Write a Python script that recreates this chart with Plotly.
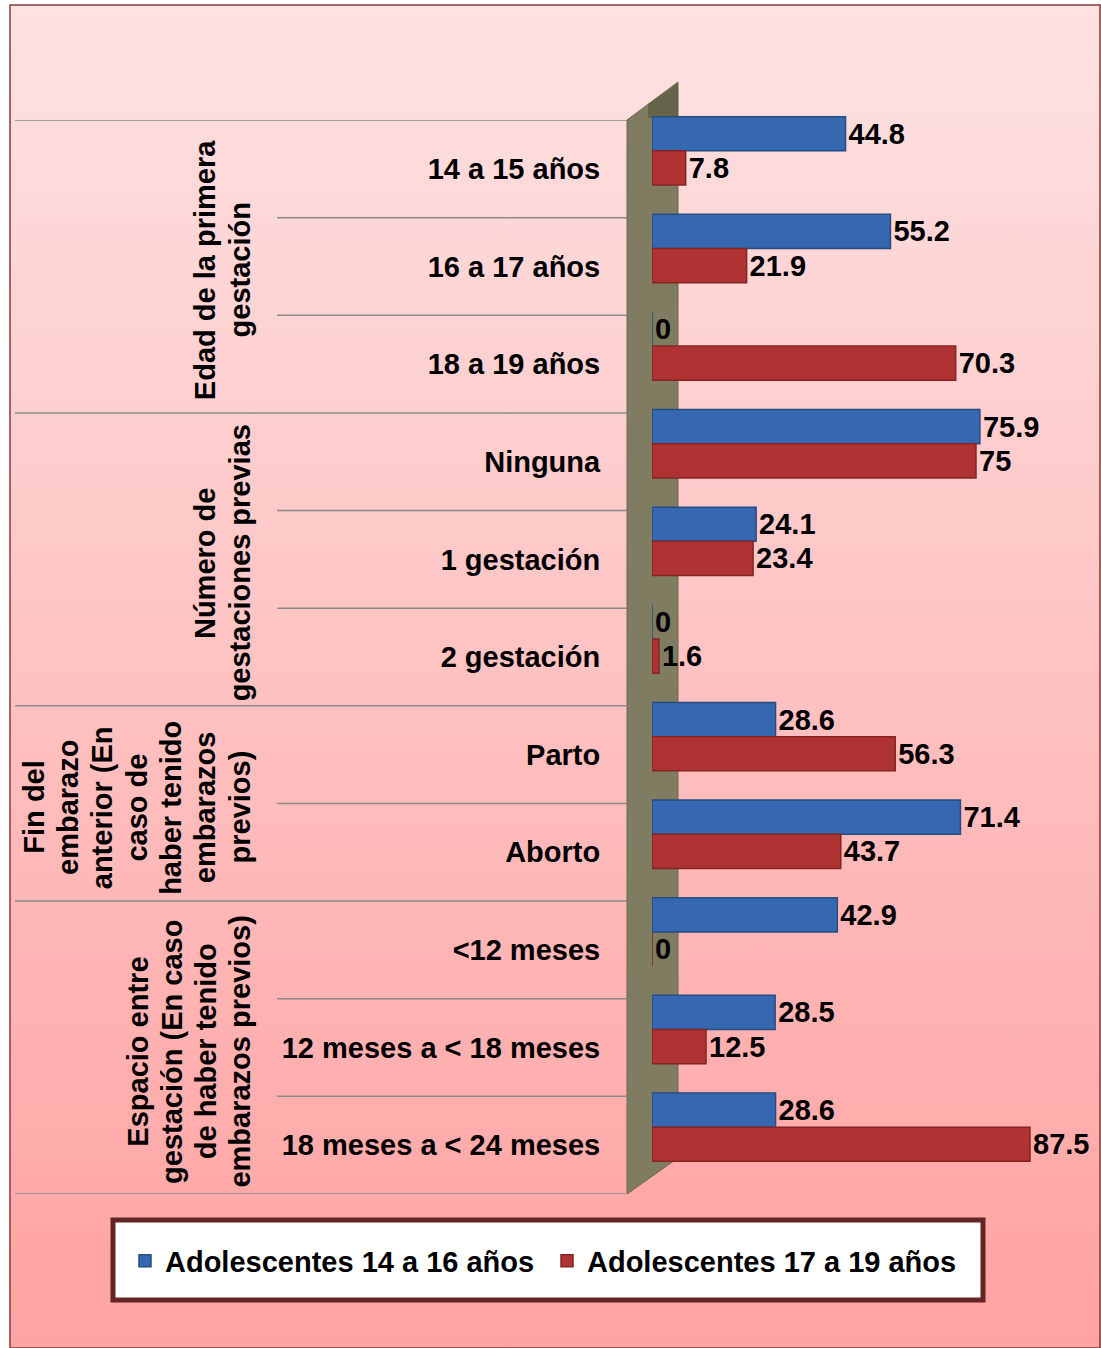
import base64
import plotly.graph_objects as go

# ---------------- data ----------------
categories = ["14 a 15 años", "16 a 17 años", "18 a 19 años",
              "Ninguna", "1 gestación", "2 gestación",
              "Parto", "Aborto",
              "<12 meses", "12 meses a < 18 meses", "18 meses a < 24 meses"]
group_labels = ["Edad de la primera<br>gestación",
                "Número de<br>gestaciones previas",
                "Fin del<br>embarazo<br>anterior (En<br>caso de<br>haber tenido<br>embarazos<br>previos)",
                "Espacio entre<br>gestación (En caso<br>de haber tenido<br>embarazos previos)"]
group_sizes = [3, 3, 2, 3]
series_names = ["Adolescentes 14 a 16 años", "Adolescentes 17 a 19 años"]
serie_14_16 = [44.8, 55.2, 0, 75.9, 24.1, 0, 28.6, 71.4, 42.9, 28.5, 28.6]
serie_17_19 = [7.8, 21.9, 70.3, 75, 23.4, 1.6, 56.3, 43.7, 0, 12.5, 87.5]

# ---------------- layout helpers ----------------
W, H = 1101, 1348
def px(x):
    return x / W
def py(y):
    return 1 - y / H

FONT = "Liberation Sans, Arial, sans-serif"
FS = 29
n = len(categories)

fig = go.Figure()

colors = ["#3568b0", "#b03333"]
lines = ["#264c82", "#862424"]
for name, vals, c, lc in zip(series_names, [serie_14_16, serie_17_19], colors, lines):
    fig.add_trace(go.Bar(
        y=categories, x=vals, orientation="h", name=name,
        xaxis="x", yaxis="y2",
        marker=dict(color=c, line=dict(color=lc, width=1.5)),
        text=[f"{v:g}" for v in vals], textposition="outside",
        textfont=dict(family=FONT, size=FS, color="black", weight="bold"),
        constraintext="none", cliponaxis=False, hoverinfo="x+y",
    ))

# invisible trace to carry the category tick labels (unshifted)
fig.add_trace(go.Scatter(x=[0] * n, y=categories, mode="markers",
                         marker=dict(opacity=0), showlegend=False,
                         hoverinfo="skip", xaxis="x", yaxis="y"))

# ---------------- shapes ----------------
shapes = []
# 3D wall
wall = (f"M {px(627)},{py(120)} L {px(678)},{py(82)} L {px(678)},{py(1158)} "
        f"L {px(627)},{py(1194)} Z")
shapes.append(dict(type="path", path=wall, xref="paper", yref="paper",
                   fillcolor="#7f7c62", line=dict(color="#6c694f", width=1), layer="below"))
shade = (f"M {px(648)},{py(104)} L {px(678)},{py(83)} L {px(678)},{py(118)} "
         f"L {px(648)},{py(118)} Z")
shapes.append(dict(type="path", path=shade, xref="paper", yref="paper",
                   fillcolor="#55543c", opacity=0.6, line=dict(width=0), layer="below"))

# separator lines
bounds = [-0.5]
for s in group_sizes:
    bounds.append(bounds[-1] + s)
for i in range(n + 1):
    yb = i - 0.5
    x0 = 15 if yb in bounds else 277
    shapes.append(dict(type="line", xref="paper", yref="y", x0=px(x0), x1=px(627),
                       y0=yb, y1=yb, line=dict(color="#8a8a8a", width=1.5), layer="below"))

# outer border
shapes.append(dict(type="rect", xref="paper", yref="paper", x0=px(10), x1=px(1100),
                   y0=py(1348), y1=py(5), line=dict(color="#8b3a3a", width=1.5), layer="below"))
# legend box
shapes.append(dict(type="rect", xref="paper", yref="paper", x0=px(113), x1=px(983),
                   y0=py(1300), y1=py(1220), fillcolor="white",
                   line=dict(color="#642525", width=5), layer="below"))

# ---------------- group annotations (one per line, tighter spacing) ----------------
annotations = []
LINE_SP = 34.3
LAST_X = 240
for lab, b0, b1 in zip(group_labels, bounds[:-1], bounds[1:]):
    parts = lab.split("<br>")
    m = len(parts)
    for k, part in enumerate(parts):
        annotations.append(dict(text=part, textangle=-90, xref="paper", yref="y",
                                x=px(LAST_X - (m - 1 - k) * LINE_SP), y=(b0 + b1) / 2,
                                yshift=-4, xanchor="center", yanchor="middle",
                                showarrow=False, align="center",
                                font=dict(family=FONT, size=FS, color="black", weight="bold")))

# background gradient
svg = ('<svg xmlns="http://www.w3.org/2000/svg" width="100" height="100" viewBox="0 0 100 100" '
       'preserveAspectRatio="none"><defs><linearGradient id="g" x1="0" y1="0" x2="0" y2="1">'
       '<stop offset="0" stop-color="#fde2e2"/><stop offset="1" stop-color="#ffa2a2"/>'
       '</linearGradient></defs><rect width="100" height="100" fill="url(#g)"/></svg>')
src = "data:image/svg+xml;base64," + base64.b64encode(svg.encode()).decode()

X0 = 652
SCALE = 4.32
fig.update_layout(
    width=W, height=H,
    margin=dict(l=0, r=0, t=0, b=0),
    paper_bgcolor="white", plot_bgcolor="rgba(0,0,0,0)",
    barmode="group", bargap=0.30, bargroupgap=0,
    images=[dict(source=src, xref="paper", yref="paper", x=px(10), y=py(5),
                 sizex=px(1101) - px(10), sizey=py(5) - py(1348),
                 xanchor="left", yanchor="top", sizing="stretch", layer="below")],
    xaxis=dict(domain=[px(X0), 1], range=[0, (W - X0) / SCALE], visible=False, fixedrange=True),
    yaxis=dict(domain=[py(1194), py(120)], type="category", categoryorder="array",
               categoryarray=categories, range=[n - 0.5, -0.5], showgrid=False,
               zeroline=False, showline=False, ticks="outside", ticklen=45,
               tickcolor="rgba(0,0,0,0)", anchor="x",
               tickfont=dict(family=FONT, size=FS, color="black", weight="bold")),
    yaxis2=dict(domain=[py(1176), py(102)], type="category", categoryorder="array",
                categoryarray=categories, range=[n - 0.5, -0.5], showgrid=False,
                zeroline=False, showline=False, showticklabels=False, anchor="x"),
    shapes=shapes,
    annotations=annotations,
    showlegend=True,
    legend=dict(orientation="h", x=px(125), y=py(1261), xanchor="left", yanchor="middle",
                bgcolor="rgba(0,0,0,0)", borderwidth=0, entrywidth=377,
                entrywidthmode="pixels",
                font=dict(family=FONT, size=FS, color="black", weight="bold")),
)

fig.write_html("out.html")
